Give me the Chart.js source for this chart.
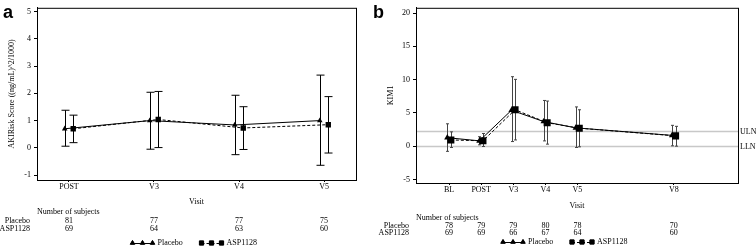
<!DOCTYPE html>
<html>
<head>
<meta charset="utf-8">
<script src="https://cdn.jsdelivr.net/npm/chart.js@4/dist/chart.umd.min.js"></script>
<style>
  body { margin: 0; background: #fff; }
  #wrap { position: relative; width: 756px; height: 252px; overflow: hidden; }
  canvas { position: absolute; top: 0; }
</style>
</head>
<body>
<div id="wrap">
  <canvas id="chartA" width="370" height="252" style="left:0"></canvas>
  <canvas id="chartB" width="386" height="252" style="left:370px"></canvas>
</div>
<script>
// ---- panel a : AKIRisk score ----
const visitsA = ["POST", "V3", "V4", "V5"];
const visitPosA = [0, 1, 2, 3];
const placeboA = [0.70, 1.00, 0.84, 1.00];
const placeboLoA = [0.06, -0.05, -0.25, -0.64];
const placeboHiA = [1.38, 2.04, 1.93, 2.67];
const aspA = [0.70, 1.04, 0.73, 0.85];
const aspLoA = [0.19, 0.01, -0.06, -0.19];
const aspHiA = [1.20, 2.07, 1.51, 1.88];
const nPlaceboA = [81, 77, 77, 75];
const nAspA = [69, 64, 63, 60];
const yTicksA = [-1, 0, 1, 2, 3, 4, 5];

// ---- panel b : KIM1 ----
const visitsB = ["BL", "POST", "V3", "V4", "V5", "V8"];
const visitPosB = [0, 1, 2, 3, 4, 7];
const placeboB = [1.27, 0.80, 5.40, 3.70, 2.75, 1.62];
const placeboLoB = [-0.78, 0.20, 0.69, 0.79, -0.20, 0.05];
const placeboHiB = [3.36, 1.42, 10.44, 6.87, 5.90, 3.13];
const aspB = [0.93, 0.80, 5.47, 3.52, 2.70, 1.55];
const aspLoB = [-0.20, -0.05, 0.93, 0.30, -0.10, 0.00];
const aspHiB = [2.15, 1.90, 10.04, 6.78, 5.47, 2.98];
const nPlaceboB = [78, 79, 79, 80, 78, 70];
const nAspB = [69, 69, 66, 67, 64, 60];
const yTicksB = [-5, 0, 5, 10, 15, 20];
const refLines = [{ label: "ULN", value: 2.25 }, { label: "LLN", value: 0 }];

const serif = "'Liberation Serif', 'Times New Roman', serif";
const fs = 8;

function points(pos, vals, shift) {
    return vals.map((v, i) => ({ x: pos[i] + shift, y: v }));
}

// error bars, frame, reference lines, subject table and legend
function extrasPlugin(cfg) {
    return {
        id: "extras" + cfg.letter,
        beforeDatasetsDraw(chart) {
            const ctx = chart.ctx;
            const ca = chart.chartArea;
            const ys = chart.scales.y;
            ctx.save();
            (cfg.refs || []).forEach(r => {
                const py = Math.round(ys.getPixelForValue(r.value)) + 0.5;
                ctx.strokeStyle = "#c8c8c8";
                ctx.lineWidth = 1.5;
                ctx.beginPath();
                ctx.moveTo(ca.left, py);
                ctx.lineTo(ca.right, py);
                ctx.stroke();
                ctx.fillStyle = "#000";
                ctx.font = fs + "px " + serif;
                ctx.textAlign = "left";
                ctx.textBaseline = "middle";
                ctx.fillText(r.label, ca.right + 2, py);
            });
            chart.data.datasets.forEach((ds, di) => {
                const meta = chart.getDatasetMeta(di);
                meta.data.forEach((pt, i) => {
                    const top = ys.getPixelForValue(ds.hi[i]);
                    const bot = ys.getPixelForValue(ds.lo[i]);
                    const x = Math.round(pt.x) + 0.5;
                    ctx.strokeStyle = cfg.barColor;
                    ctx.lineWidth = 1;
                    ctx.beginPath();
                    ctx.moveTo(x, top);
                    ctx.lineTo(x, bot);
                    ctx.moveTo(x - cfg.cap, top);
                    ctx.lineTo(x + cfg.cap, top);
                    ctx.moveTo(x - cfg.cap, bot);
                    ctx.lineTo(x + cfg.cap, bot);
                    ctx.stroke();
                });
            });
            ctx.restore();
        },
        afterDraw(chart) {
            const ctx = chart.ctx;
            const ca = chart.chartArea;
            const xs = chart.scales.x;
            ctx.save();
            ctx.strokeStyle = "#000";
            ctx.lineWidth = 1;
            ctx.strokeRect(ca.left + 0.5, ca.top + 0.5, ca.right - ca.left, ca.bottom - ca.top);

            ctx.font = "bold 18px 'Liberation Sans', Arial, sans-serif";
            ctx.fillStyle = "#000";
            ctx.textBaseline = "alphabetic";
            ctx.textAlign = "left";
            ctx.fillText(cfg.letter, cfg.letterX, 18);

            ctx.font = fs + "px " + serif;
            ctx.textBaseline = "middle";
            ctx.fillText("Number of subjects", ca.left, cfg.tableY[0]);
            ctx.textAlign = "right";
            ctx.fillText("Placebo", ca.left - 7, cfg.tableY[1]);
            ctx.fillText("ASP1128", ca.left - 7, cfg.tableY[2]);
            ctx.textAlign = "center";
            cfg.pos.forEach((p, i) => {
                const px = xs.getPixelForValue(p);
                ctx.fillText(String(cfg.nPlacebo[i]), px, cfg.tableY[1]);
                ctx.fillText(String(cfg.nAsp[i]), px, cfg.tableY[2]);
            });

            // legend
            const ly = cfg.legendY;
            const mid = (ca.left + ca.right) / 2;
            const items = [
                { text: "Placebo", style: "triangle", dash: [], x: mid + cfg.legendX[0] },
                { text: "ASP1128", style: "rect", dash: [3, 2], x: mid + cfg.legendX[1] }
            ];
            items.forEach(it => {
                ctx.strokeStyle = "#000";
                ctx.lineWidth = 1;
                ctx.setLineDash(it.dash);
                ctx.beginPath();
                ctx.moveTo(it.x, ly + 0.5);
                ctx.lineTo(it.x + 20, ly + 0.5);
                ctx.stroke();
                ctx.setLineDash([]);
                [0, 10, 20].forEach(d => {
                    Chart.helpers.drawPoint(ctx, { pointStyle: it.style, radius: it.style === "rect" ? 3 : 2.6, rotation: 0, borderWidth: 1 }, it.x + d, ly);
                    ctx.fill();
                });
                ctx.textAlign = "left";
                ctx.fillText(it.text, it.x + 25, ly);
            });
            ctx.restore();
        }
    };
}

function makeChart(id, cfg) {
    const ctx = document.getElementById(id).getContext("2d");
    return new Chart(ctx, {
        type: "line",
        data: {
            datasets: [{
                label: "Placebo",
                data: points(cfg.pos, cfg.placebo, -cfg.shift),
                lo: cfg.placeboLo,
                hi: cfg.placeboHi,
                borderColor: "#000",
                backgroundColor: "#000",
                borderWidth: 1,
                pointStyle: "triangle",
                pointRadius: cfg.triR,
                pointBorderWidth: 0,
                tension: 0
            }, {
                label: "ASP1128",
                data: points(cfg.pos, cfg.asp, cfg.shift),
                lo: cfg.aspLo,
                hi: cfg.aspHi,
                borderColor: "#000",
                backgroundColor: "#000",
                borderWidth: 1,
                borderDash: [3, 2],
                pointStyle: "rect",
                pointRadius: cfg.rectR,
                pointBorderWidth: 0,
                tension: 0
            }]
        },
        options: {
            responsive: false,
            animation: false,
            layout: { padding: cfg.padding },
            plugins: { legend: { display: false }, tooltip: { enabled: false } },
            scales: {
                x: {
                    type: "linear",
                    min: cfg.xMin,
                    max: cfg.xMax,
                    afterBuildTicks: s => { s.ticks = cfg.pos.map(v => ({ value: v })); },
                    afterFit: s => { s.height = cfg.xHeight; },
                    ticks: {
                        autoSkip: false, maxRotation: 0, padding: 0, color: "#000",
                        font: { family: serif, size: fs },
                        callback: v => cfg.labels[cfg.pos.indexOf(v)]
                    },
                    grid: { drawOnChartArea: false, tickLength: 2, color: "#000" },
                    border: { color: "#000" },
                    title: { display: true, text: "Visit", color: "#000", padding: 0, font: { family: serif, size: fs } }
                },
                y: {
                    min: cfg.yMin,
                    max: cfg.yMax,
                    afterBuildTicks: s => { s.ticks = cfg.yTicks.map(v => ({ value: v })); },
                    afterFit: s => { s.width = cfg.yWidth; },
                    ticks: { padding: 3, color: "#000", font: { family: serif, size: fs } },
                    grid: { drawOnChartArea: false, tickLength: 3, color: "#000" },
                    border: { color: "#000" },
                    title: { display: true, text: cfg.yTitle, color: "#000", padding: { top: cfg.yTitlePad, bottom: 0 }, font: { family: serif, size: fs } }
                }
            }
        },
        plugins: [extrasPlugin(cfg)]
    });
}

makeChart("chartA", {
    letter: "a", letterX: 3,
    labels: visitsA, pos: visitPosA, shift: 0.05,
    placebo: placeboA, placeboLo: placeboLoA, placeboHi: placeboHiA,
    asp: aspA, aspLo: aspLoA, aspHi: aspHiA,
    nPlacebo: nPlaceboA, nAsp: nAspA,
    yTicks: yTicksA, yMin: -1.18, yMax: 5.14, xMin: -0.376, xMax: 3.376,
    yTitle: "AKIRisk Score ((ng/mL)^2/1000)", yTitlePad: 7, yWidth: 37, xHeight: 27,
    padding: { left: 0, right: 14, top: 2, bottom: 45 },
    triR: 3.2, rectR: 3.8, cap: 4, barColor: "#000",
    tableY: [212, 221, 229], legendY: 243, legendX: [-64, 5]
});

makeChart("chartB", {
    letter: "b", letterX: 3,
    labels: visitsB, pos: visitPosB, shift: 0.055,
    placebo: placeboB, placeboLo: placeboLoB, placeboHi: placeboHiB,
    asp: aspB, aspLo: aspLoB, aspHi: aspHiB,
    nPlacebo: nPlaceboB, nAsp: nAspB,
    yTicks: yTicksB, yMin: -5.54, yMax: 20.8, xMin: -1.03, xMax: 9.0,
    yTitle: "KIM1", yTitlePad: 16, yWidth: 46, xHeight: 28,
    padding: { left: 0, right: 18, top: 3, bottom: 41 },
    triR: 3.6, rectR: 5, cap: 1.5, barColor: "#444",
    tableY: [218, 226, 233], legendY: 242, legendX: [-74, -5],
    refs: refLines
});
</script>
</body>
</html>
